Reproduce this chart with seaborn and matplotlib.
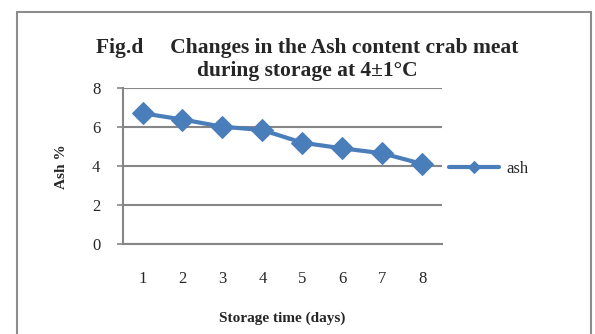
import matplotlib
matplotlib.use("Agg")
import matplotlib.pyplot as plt
import matplotlib.patches as mpatches
import pandas as pd
import seaborn as sns

# ── Data ──────────────────────────────────────────────────────────────────────
days = [1, 2, 3, 4, 5, 6, 7, 8]
ash = [6.72, 6.40, 6.03, 5.86, 5.21, 4.92, 4.67, 4.12]
y_ticks = [0, 2, 4, 6, 8]

BLUE = "#4A7EBB"
GRID = "#868686"

sns.set_theme(style="white")
plt.rcParams["font.family"] = ["Liberation Serif", "DejaVu Serif"]

df = pd.DataFrame({"day": days, "ash": ash})

fig = plt.figure(figsize=(5.95, 3.34), dpi=100)
ax = fig.add_axes([0.206, 0.2686, 0.537, 0.467])

sns.lineplot(data=df, x="day", y="ash", ax=ax, color=BLUE, linewidth=3.0,
             marker="D", markersize=11, markeredgecolor=BLUE,
             label="ash", legend=False)

ax.set_xlim(0.5, 8.5)
ax.set_ylim(0, 8)
ax.set_xticks(days)
ax.set_yticks(y_ticks)
ax.tick_params(axis="x", length=0, pad=19, labelsize=12)
ax.tick_params(axis="y", length=4, width=1.2, color=GRID, pad=12, labelsize=12,
               left=True)

ax.grid(axis="y", color=GRID, linewidth=1.5)
ax.set_axisbelow(True)
for side in ("top", "right"):
    ax.spines[side].set_visible(False)
ax.spines["left"].set_color(GRID)
ax.spines["left"].set_linewidth(1.5)
ax.spines["bottom"].set_color(GRID)
ax.spines["bottom"].set_linewidth(1.5)

ax.set_xlabel("Storage time (days)", fontsize=11, fontweight="bold", labelpad=18)
ax.set_ylabel("Ash %", fontsize=11, fontweight="bold", labelpad=17)

fig.text(0.516, 0.822, "Fig.d     Changes in the Ash content crab meat\nduring storage at 4±1°C",
         ha="center", va="center", fontsize=15.5, fontweight="bold",
         linespacing=1.2)

handles, labels = ax.get_legend_handles_labels()
fig.legend(handles, labels, loc="center left", bbox_to_anchor=(0.755, 0.495),
           frameon=False, fontsize=12, handlelength=3.0, handletextpad=0.4,
           borderpad=0, borderaxespad=0, markerscale=0.6)

# outer chart border
fig.patches.append(mpatches.Rectangle((0.029, -0.05), 0.964, 1.014,
                                      transform=fig.transFigure, fill=False,
                                      edgecolor="#8C8C8C", linewidth=1.5))

fig.savefig("out.png", dpi=100)
